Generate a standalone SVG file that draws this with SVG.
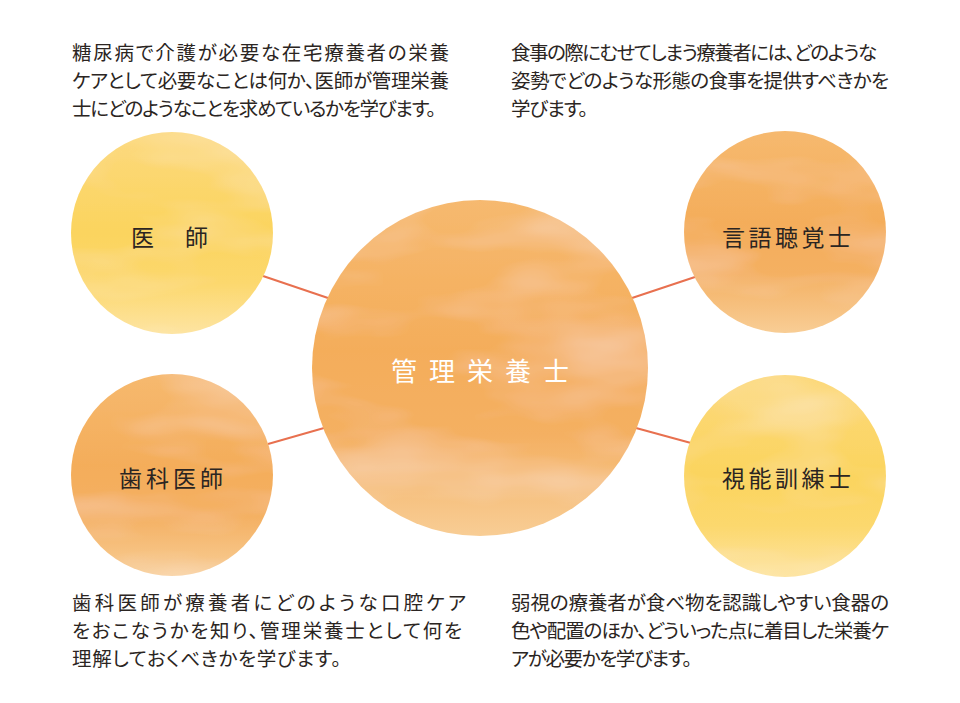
<svg xmlns="http://www.w3.org/2000/svg" width="960" height="703" viewBox="0 0 960 703">
<style>
.desc{font-family:"Noto Sans CJK JP","Noto Sans",sans-serif;font-size:19.5px;fill:#2b2522;font-feature-settings:"palt";}
.lab{font-family:"Noto Sans CJK JP","Noto Sans",sans-serif;font-size:23px;fill:#2b2522;letter-spacing:4px;}
.main{font-family:"Noto Sans CJK JP","Noto Sans",sans-serif;font-size:26px;fill:#ffffff;letter-spacing:12px;}
.conn line{stroke:#e8704f;stroke-width:2;}
</style>
<defs>
<linearGradient id="gOr" x1="0" y1="0" x2="0" y2="1">
<stop offset="0" stop-color="#f6b96f"/>
<stop offset="0.45" stop-color="#f4ad5a"/>
<stop offset="0.7" stop-color="#f4b062"/>
<stop offset="1" stop-color="#f8cd95"/>
</linearGradient>
<linearGradient id="gYe" x1="0" y1="0" x2="0" y2="1">
<stop offset="0" stop-color="#fcd97c"/>
<stop offset="0.5" stop-color="#fbd45e"/>
<stop offset="0.75" stop-color="#fcd86e"/>
<stop offset="1" stop-color="#fde4a2"/>
</linearGradient>
<filter id="wc" x="-5%" y="-5%" width="110%" height="110%">
<feTurbulence type="fractalNoise" baseFrequency="0.006 0.018" numOctaves="3" seed="4" result="n"/>
<feColorMatrix in="n" type="matrix" values="0 0 0 0 1  0 0 0 0 1  0 0 0 0 1  0 0 0 -0.5 0.28" result="w"/>
<feComposite in="w" in2="SourceGraphic" operator="in" result="wi"/>
<feMerge><feMergeNode in="SourceGraphic"/><feMergeNode in="wi"/></feMerge>
</filter>
</defs>
<rect width="960" height="703" fill="#ffffff"/>

<g id="connectors" class="conn">
<line x1="263" y1="276" x2="328" y2="298"/>
<line x1="632" y1="298" x2="695" y2="277"/>
<line x1="268" y1="444" x2="324" y2="428"/>
<line x1="636" y1="428" x2="691" y2="443"/>
</g>

<g id="node-center">
<circle cx="480" cy="368" r="168" fill="url(#gOr)" filter="url(#wc)"/>
<text class="main" x="391" y="381">管理栄養士</text>
</g>

<g id="node-doctor">
<circle cx="172" cy="233" r="101" fill="url(#gYe)" filter="url(#wc)"/>
<text class="lab" x="131" y="246">医　師</text>
</g>

<g id="node-dentist">
<circle cx="172" cy="475" r="101" fill="url(#gOr)" filter="url(#wc)"/>
<text class="lab" x="119" y="487">歯科医師</text>
</g>

<g id="node-st">
<circle cx="785" cy="232" r="101" fill="url(#gOr)" filter="url(#wc)"/>
<text class="lab" x="722" y="246" style="letter-spacing:3.5px">言語聴覚士</text>
</g>

<g id="node-ort">
<circle cx="785" cy="476" r="101" fill="url(#gYe)" filter="url(#wc)"/>
<text class="lab" x="722" y="487" style="letter-spacing:3.5px">視能訓練士</text>
</g>

<g id="desc-doctor">
<text class="desc" x="72" y="60" textLength="377" lengthAdjust="spacing">糖尿病で介護が必要な在宅療養者の栄養</text>
<text class="desc" x="72" y="88" textLength="377" lengthAdjust="spacing">ケアとして必要なことは何か、医師が管理栄養</text>
<text class="desc" x="72" y="116" textLength="364" lengthAdjust="spacing">士にどのようなことを求めているかを学びます。</text>
</g>

<g id="desc-st">
<text class="desc" x="511" y="60" textLength="366" lengthAdjust="spacing">食事の際にむせてしまう療養者には、どのような</text>
<text class="desc" x="511" y="88" textLength="378" lengthAdjust="spacing">姿勢でどのような形態の食事を提供すべきかを</text>
<text class="desc" x="511" y="116" textLength="77" lengthAdjust="spacing">学びます。</text>
</g>

<g id="desc-dentist">
<text class="desc" x="72" y="610" textLength="394" lengthAdjust="spacing">歯科医師が療養者にどのような口腔ケア</text>
<text class="desc" x="72" y="638" textLength="390" lengthAdjust="spacing">をおこなうかを知り、管理栄養士として何を</text>
<text class="desc" x="72" y="666" textLength="269" lengthAdjust="spacing">理解しておくべきかを学びます。</text>
</g>

<g id="desc-ort">
<text class="desc" x="511" y="610" textLength="378" lengthAdjust="spacing">弱視の療養者が食べ物を認識しやすい食器の</text>
<text class="desc" x="511" y="638" textLength="378" lengthAdjust="spacing">色や配置のほか、どういった点に着目した栄養ケ</text>
<text class="desc" x="511" y="666" textLength="181" lengthAdjust="spacing">アが必要かを学びます。</text>
</g>
</svg>
